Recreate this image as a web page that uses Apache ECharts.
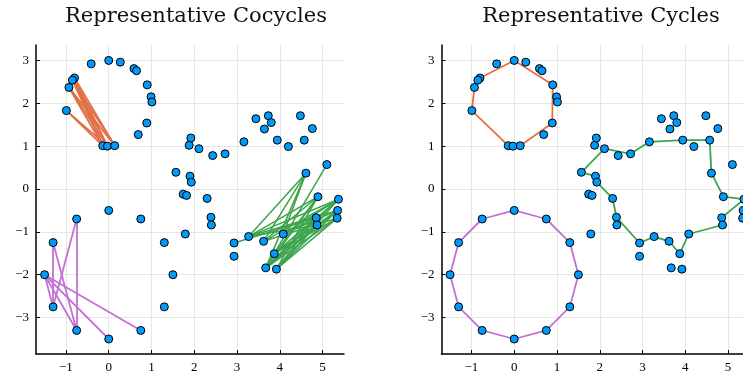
<!DOCTYPE html>
<html>
<head>
<meta charset="utf-8">
<script src="https://cdn.jsdelivr.net/npm/echarts@6/dist/echarts.min.js"></script>
<style>
html, body { margin: 0; padding: 0; background: #fff; }
#chart { width: 743px; height: 377px; }
</style>
</head>
<body>
<div id="chart"></div>
<script>
// point cloud (same points in both panels)
var circleTop = [
  [-0.41, 2.92], [0, 3.0], [0.27, 2.96], [0.59, 2.81], [0.65, 2.76], [0.90, 2.43],
  [0.99, 2.15], [1.01, 2.03], [0.89, 1.54], [0.69, 1.27], [-0.80, 2.59], [-0.85, 2.54],
  [-0.93, 2.37], [-0.99, 1.83], [-0.14, 1.01], [-0.03, 1.0], [0.14, 1.01]
]
var circleBottom = [
  [0, -0.5], [0.75, -0.70], [1.30, -1.25], [1.5, -2], [1.30, -2.75], [0.75, -3.30],
  [0, -3.5], [-0.75, -3.30], [-1.30, -2.75], [-1.5, -2], [-1.30, -1.25], [-0.75, -0.70]
]
var blob = [
  [1.57, 0.39], [1.90, 0.30], [1.93, 0.16], [1.74, -0.12], [1.82, -0.15], [2.30, -0.22],
  [2.39, -0.66], [2.40, -0.84], [1.79, -1.05], [1.88, 1.02], [1.92, 1.19], [2.11, 0.94],
  [2.43, 0.78], [2.72, 0.82], [3.16, 1.10], [3.44, 1.64], [3.73, 1.71], [3.80, 1.55],
  [3.64, 1.40], [4.48, 1.71], [4.76, 1.41], [3.94, 1.14], [4.20, 0.99], [4.57, 1.14],
  [4.61, 0.37], [5.10, 0.57], [4.89, -0.18], [5.37, -0.24], [5.35, -0.50], [5.34, -0.68],
  [4.85, -0.67], [4.87, -0.84], [4.08, -1.05], [3.62, -1.22], [3.27, -1.11], [2.93, -1.26],
  [2.93, -1.57], [3.87, -1.51], [3.67, -1.84], [3.92, -1.87]
]

// representative cycles (closed paths)
var cycleOrange = [
  [0, 3.0], [0.90, 2.43], [0.89, 1.54], [0.14, 1.01], [-0.03, 1.0], [-0.14, 1.01],
  [-0.99, 1.83], [-0.93, 2.37], [-0.80, 2.59], [0, 3.0]
]
var cyclePurple = circleBottom.concat([circleBottom[0]])
var cycleGreen = [
  [1.57, 0.39], [2.11, 0.94], [2.72, 0.82], [3.16, 1.10], [3.94, 1.14], [4.57, 1.14],
  [4.61, 0.37], [4.89, -0.18], [5.37, -0.24], [4.85, -0.67], [4.87, -0.84], [4.08, -1.05],
  [3.87, -1.51], [3.62, -1.22], [3.27, -1.11], [2.93, -1.26], [2.39, -0.66], [2.30, -0.22],
  [1.93, 0.16], [1.90, 0.30], [1.57, 0.39]
]

// representative cocycles (edges)
var cocycleOrange = [
  [[-0.80, 2.59], [-0.14, 1.01]], [[-0.80, 2.59], [-0.03, 1.0]], [[-0.80, 2.59], [0.14, 1.01]],
  [[-0.85, 2.54], [-0.14, 1.01]], [[-0.85, 2.54], [-0.03, 1.0]], [[-0.85, 2.54], [0.14, 1.01]],
  [[-0.93, 2.37], [-0.14, 1.01]], [[-0.93, 2.37], [-0.03, 1.0]], [[-0.93, 2.37], [0.14, 1.01]],
  [[-0.99, 1.83], [-0.14, 1.01]], [[-0.99, 1.83], [-0.03, 1.0]]
]
var cocyclePurple = [
  [[-1.30, -1.25], [-1.30, -2.75]], [[-1.30, -1.25], [-0.75, -3.30]],
  [[-0.75, -0.70], [-0.75, -3.30]], [[-0.75, -0.70], [-1.30, -2.75]],
  [[-1.5, -2], [-1.30, -2.75]], [[-1.5, -2], [-0.75, -3.30]],
  [[-1.5, -2], [0, -3.5]], [[-1.5, -2], [0.75, -3.30]]
]
var cocycleGreen = [
  [[2.93, -1.26], [4.85, -0.67]],
  [[3.27, -1.11], [4.61, 0.37]], [[3.27, -1.11], [4.89, -0.18]], [[3.27, -1.11], [5.37, -0.24]],
  [[3.27, -1.11], [5.35, -0.50]], [[3.27, -1.11], [4.87, -0.84]],
  [[3.62, -1.22], [4.61, 0.37]], [[3.62, -1.22], [4.89, -0.18]], [[3.62, -1.22], [5.37, -0.24]],
  [[3.62, -1.22], [5.34, -0.68]],
  [[4.08, -1.05], [4.61, 0.37]], [[4.08, -1.05], [5.37, -0.24]], [[4.08, -1.05], [5.35, -0.50]],
  [[4.08, -1.05], [4.85, -0.67]],
  [[5.10, 0.57], [3.67, -1.84]],
  [[3.87, -1.51], [4.89, -0.18]], [[3.87, -1.51], [5.37, -0.24]], [[3.87, -1.51], [5.35, -0.50]],
  [[3.87, -1.51], [5.34, -0.68]], [[3.87, -1.51], [4.85, -0.67]], [[3.87, -1.51], [4.87, -0.84]],
  [[3.67, -1.84], [4.89, -0.18]], [[3.67, -1.84], [5.37, -0.24]], [[3.67, -1.84], [5.35, -0.50]],
  [[3.67, -1.84], [5.34, -0.68]], [[3.67, -1.84], [4.85, -0.67]], [[3.67, -1.84], [4.87, -0.84]],
  [[3.67, -1.84], [4.61, 0.37]],
  [[3.92, -1.87], [4.89, -0.18]], [[3.92, -1.87], [5.37, -0.24]], [[3.92, -1.87], [5.35, -0.50]],
  [[3.92, -1.87], [5.34, -0.68]], [[3.92, -1.87], [4.85, -0.67]], [[3.92, -1.87], [4.87, -0.84]]
]

var xTicks = [-1, 0, 1, 2, 3, 4, 5]
var yTicks = [-3, -2, -1, 0, 1, 2, 3]
var titles = ['Representative Cocycles', 'Representative Cycles']

var allPoints = circleTop.concat(circleBottom, blob)
var BLUE = '#009AFA', ORANGE = '#E26F46', GREEN = '#3DA44D', PURPLE = '#C271D2'

function fmt(v) { return v < 0 ? '\u2212' + Math.abs(v) : String(v) }

function makeAxis(idx, isX) {
  return {
    type: 'value',
    gridIndex: idx,
    min: isX ? -1.70 : -3.85,
    max: isX ? 5.50 : 3.36,
    axisLine: { show: true, onZero: false, lineStyle: { color: '#000', width: 1.5 } },
    axisTick: { show: true, inside: true, length: 4, customValues: isX ? xTicks : yTicks, lineStyle: { color: '#000', width: 1 } },
    axisLabel: {
      customValues: isX ? xTicks : yTicks,
      formatter: fmt,
      fontFamily: 'Liberation Serif',
      fontSize: 13,
      color: '#000',
      margin: 7
    },
    splitLine: { show: true, lineStyle: { color: '#e6e6e6', width: 1 } }
  }
}

function edges(list) {
  return list.map(function (e) { return { coords: e } })
}

var titleStyle = { fontFamily: 'DejaVu Serif', fontWeight: 'normal', fontSize: 21, color: '#111' }

var chart = echarts.init(document.getElementById('chart'))
var option = {
  animation: false,
  title: [
    { text: titles[0], left: 191, top: 1, textAlign: 'center', textStyle: titleStyle },
    { text: titles[1], left: 596, top: 1, textAlign: 'center', textStyle: titleStyle }
  ],
  grid: [
    { left: 36, top: 45, width: 308, height: 309, containLabel: false, outerBoundsMode: 'none' },
    { left: 441.5, top: 45, width: 308, height: 309, containLabel: false, outerBoundsMode: 'none' }
  ],
  xAxis: [makeAxis(0, true), makeAxis(1, true)],
  yAxis: [makeAxis(0, false), makeAxis(1, false)],
  series: [
    { type: 'lines', coordinateSystem: 'cartesian2d', xAxisIndex: 0, yAxisIndex: 0,
      data: edges(cocycleOrange), lineStyle: { color: ORANGE, width: 1.8, opacity: 1 }, z: 2 },
    { type: 'lines', coordinateSystem: 'cartesian2d', xAxisIndex: 0, yAxisIndex: 0,
      data: edges(cocyclePurple), lineStyle: { color: PURPLE, width: 1.8, opacity: 1 }, z: 2 },
    { type: 'lines', coordinateSystem: 'cartesian2d', xAxisIndex: 0, yAxisIndex: 0,
      data: edges(cocycleGreen), lineStyle: { color: GREEN, width: 1.5, opacity: 1 }, z: 2 },
    { type: 'line', xAxisIndex: 1, yAxisIndex: 1, data: cycleOrange, showSymbol: false,
      lineStyle: { color: ORANGE, width: 1.8 }, z: 2 },
    { type: 'line', xAxisIndex: 1, yAxisIndex: 1, data: cyclePurple, showSymbol: false,
      lineStyle: { color: PURPLE, width: 1.8 }, z: 2 },
    { type: 'line', xAxisIndex: 1, yAxisIndex: 1, data: cycleGreen, showSymbol: false,
      lineStyle: { color: GREEN, width: 1.8 }, z: 2 },
    { type: 'scatter', xAxisIndex: 0, yAxisIndex: 0, data: allPoints, symbolSize: 8,
      itemStyle: { color: BLUE, borderColor: '#000', borderWidth: 1, opacity: 1 }, z: 5 },
    { type: 'scatter', xAxisIndex: 1, yAxisIndex: 1, data: allPoints, symbolSize: 8,
      itemStyle: { color: BLUE, borderColor: '#000', borderWidth: 1, opacity: 1 }, z: 5 }
  ]
}
option && chart.setOption(option)
</script>
</body>
</html>
